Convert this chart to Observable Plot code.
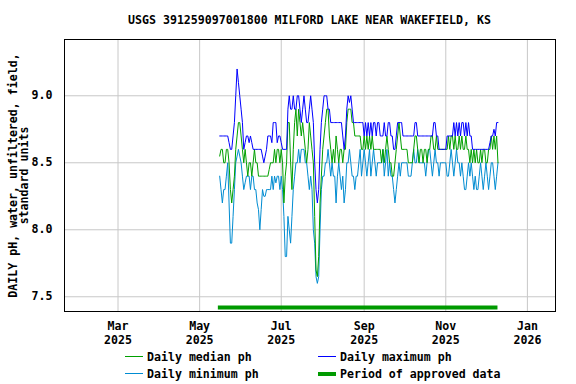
<!DOCTYPE html>
<html><head><meta charset="utf-8">
<script src="https://cdn.jsdelivr.net/npm/d3@7"></script>
<script src="https://cdn.jsdelivr.net/npm/@observablehq/plot@0.6"></script>
<style>
body{margin:0;background:#fff;}
#wrap{width:576px;height:384px;position:relative;font-family:"DejaVu Sans Mono",monospace;font-weight:bold;font-size:11.6px;color:#000;overflow:hidden;}
#title{height:30px;box-sizing:border-box;padding-top:13px;padding-left:64px;width:555px;text-align:center;line-height:14px;white-space:nowrap;}
#chart svg{display:block;}
#legend{position:relative;height:36px;margin-top:-3px;}
.item{position:absolute;display:flex;align-items:center;height:17px;white-space:nowrap;}
.sw{display:inline-block;width:18px;margin-right:4px;}
</style></head>
<body><div id="wrap"><div id="title"></div><div id="chart"></div><div id="legend"></div></div>
<script>
const titleText = "USGS 391259097001800 MILFORD LAKE NEAR WAKEFIELD, KS";
const yLabel = "DAILY pH, water, unfiltered, field,\nstandard units";
const startDate = "2025-05-16";
const xDomain = ["2025-01-20", "2026-01-22"];
const yDomain = [7.39, 9.42];
const xTickDates = ["2025-03-01", "2025-05-01", "2025-07-01", "2025-09-01", "2025-11-01", "2026-01-01"];
const xTickLabels = ["Mar\n2025", "May\n2025", "Jul\n2025", "Sep\n2025", "Nov\n2025", "Jan\n2026"];
const yTicks = [7.5, 8.0, 8.5, 9.0];
const approvedStart = ["2025-05-15"];
const approvedEnd = ["2025-12-10"];
const approvedLevel = 7.42;

const dailyMax = [8.7,8.7,8.7,8.7,8.7,8.7,8.7,8.65,8.6,8.6,
 8.7,8.8,9.0,9.2,9.1,9.0,8.9,8.8,8.6,8.65,
 8.7,8.7,8.65,8.7,8.65,8.6,8.6,8.6,8.6,8.6,
 8.6,8.6,8.55,8.5,8.55,8.6,8.7,8.7,8.7,8.65,
 8.8,8.8,8.8,8.65,8.7,8.7,8.65,8.6,8.6,8.6,
 8.6,8.9,9.0,8.9,8.9,9.0,8.9,8.9,9.0,9.0,
 8.9,8.8,8.9,9.0,8.9,8.8,8.8,8.9,9.0,8.9,
 8.8,8.5,8.3,8.2,8.3,8.6,8.8,8.9,9.0,9.0,
 9.0,8.9,8.9,8.8,8.8,8.8,8.8,8.8,8.8,8.8,
 8.8,8.8,8.7,8.6,8.7,8.9,9.0,8.95,9.0,8.9,
 8.8,8.8,8.8,8.8,8.8,8.8,8.8,8.8,8.7,8.8,
 8.7,8.8,8.7,8.8,8.7,8.8,8.8,8.7,8.8,8.8,
 8.7,8.7,8.7,8.8,8.7,8.7,8.8,8.8,8.7,8.7,
 8.6,8.6,8.7,8.8,8.8,8.8,8.8,8.7,8.7,8.7,
 8.7,8.7,8.7,8.7,8.7,8.7,8.8,8.8,8.7,8.7,
 8.7,8.7,8.7,8.7,8.7,8.7,8.7,8.7,8.7,8.7,
 8.8,8.8,8.7,8.7,8.6,8.6,8.6,8.6,8.6,8.6,
 8.7,8.7,8.7,8.7,8.7,8.8,8.7,8.8,8.7,8.8,
 8.7,8.8,8.8,8.7,8.8,8.7,8.8,8.7,8.7,8.6,
 8.6,8.6,8.6,8.6,8.6,8.6,8.6,8.6,8.6,8.6,
 8.6,8.6,8.65,8.7,8.7,8.75,8.7,8.8,8.8];

const dailyMedian = [8.55,8.6,8.6,8.5,8.5,8.6,8.6,8.5,8.3,8.2,
 8.3,8.4,8.6,8.7,8.8,8.8,8.7,8.6,8.5,8.6,
 8.5,8.4,8.5,8.5,8.4,8.5,8.6,8.5,8.5,8.4,
 8.4,8.4,8.4,8.4,8.4,8.4,8.4,8.45,8.5,8.5,
 8.5,8.6,8.5,8.6,8.6,8.5,8.6,8.5,8.2,8.4,
 8.5,8.8,8.8,8.5,8.3,8.6,8.8,8.9,8.7,8.9,
 8.8,8.7,8.8,8.7,8.6,8.5,8.6,8.8,8.7,8.6,
 8.5,8.1,7.7,7.65,7.8,8.2,8.4,8.6,8.7,8.8,
 8.9,8.9,8.7,8.6,8.5,8.6,8.5,8.7,8.6,8.5,
 8.6,8.6,8.5,8.6,8.6,8.8,8.9,8.9,8.9,8.8,
 8.8,8.7,8.7,8.7,8.7,8.7,8.6,8.6,8.7,8.6,
 8.7,8.6,8.7,8.6,8.7,8.6,8.6,8.6,8.6,8.6,
 8.6,8.5,8.6,8.5,8.6,8.7,8.6,8.5,8.5,8.4,
 8.4,8.5,8.6,8.7,8.8,8.7,8.6,8.6,8.6,8.6,
 8.6,8.5,8.5,8.5,8.5,8.6,8.7,8.7,8.6,8.5,
 8.6,8.6,8.5,8.6,8.6,8.5,8.6,8.6,8.7,8.7,
 8.6,8.6,8.7,8.6,8.6,8.6,8.6,8.6,8.6,8.6,
 8.6,8.7,8.6,8.7,8.7,8.6,8.7,8.6,8.6,8.7,
 8.6,8.7,8.6,8.6,8.7,8.6,8.6,8.5,8.6,8.5,
 8.6,8.5,8.6,8.5,8.5,8.6,8.5,8.6,8.6,8.5,
 8.5,8.6,8.6,8.7,8.6,8.7,8.6,8.7,8.5];

const dailyMin = [8.4,8.3,8.2,8.3,8.3,8.4,8.5,8.2,7.9,7.9,
 8.1,8.3,8.5,8.55,8.6,8.55,8.5,8.4,8.3,8.35,
 8.4,8.4,8.4,8.3,8.4,8.4,8.3,8.3,8.2,8.15,
 8.0,8.15,8.3,8.25,8.25,8.3,8.3,8.3,8.3,8.4,
 8.3,8.4,8.35,8.4,8.4,8.3,8.4,8.3,8.1,7.8,
 7.8,8.1,8.0,7.9,8.1,8.3,8.4,8.5,8.5,8.6,
 8.5,8.6,8.6,8.6,8.5,8.5,8.4,8.3,8.4,8.3,
 8.0,7.9,7.65,7.6,7.65,8.0,8.3,8.4,8.4,8.5,
 8.5,8.6,8.5,8.4,8.5,8.4,8.4,8.2,8.4,8.5,
 8.4,8.3,8.4,8.2,8.3,8.5,8.5,8.6,8.5,8.4,
 8.4,8.3,8.4,8.4,8.5,8.6,8.4,8.5,8.6,8.5,
 8.4,8.5,8.6,8.4,8.5,8.6,8.5,8.4,8.5,8.5,
 8.5,8.5,8.6,8.4,8.5,8.6,8.4,8.5,8.4,8.4,
 8.3,8.2,8.3,8.4,8.5,8.4,8.5,8.5,8.5,8.5,
 8.5,8.4,8.4,8.4,8.5,8.6,8.5,8.5,8.6,8.5,
 8.5,8.5,8.5,8.5,8.4,8.5,8.6,8.6,8.5,8.4,
 8.5,8.6,8.5,8.5,8.4,8.5,8.5,8.5,8.5,8.5,
 8.4,8.4,8.5,8.6,8.5,8.4,8.5,8.6,8.5,8.5,
 8.4,8.5,8.4,8.3,8.3,8.4,8.5,8.4,8.5,8.4,
 8.3,8.4,8.3,8.3,8.4,8.5,8.4,8.3,8.4,8.5,
 8.4,8.3,8.4,8.5,8.5,8.4,8.3,8.4,8.5];

const seriesNames = ["Daily median ph", "Daily maximum ph", "Daily minimum ph", "Period of approved data"];
const colors = {median: "#00a000", max: "#0000ff", min: "#008cd2", approved: "#009a00"};

const start = new Date(startDate);
const dates = d3.utcDay.range(start, d3.utcDay.offset(start, dailyMax.length));
const rows = dates.map((d, i) => ({date: d, max: dailyMax[i], median: dailyMedian[i], min: dailyMin[i]}));
const approved = approvedStart.map((s, i) => ({start: new Date(s), end: new Date(approvedEnd[i])}));
const xTicks = xTickDates.map(s => new Date(s));
const labelOf = new Map(xTicks.map((d, i) => [+d, xTickLabels[i]]));

document.getElementById("title").textContent = titleText;

const chart = Plot.plot({
  width: 576,
  height: 321,
  marginTop: 9,
  marginBottom: 40,
  marginLeft: 64,
  marginRight: 21,
  style: {fontFamily: "'DejaVu Sans Mono', monospace", fontSize: "11.6px", fontWeight: "bold", color: "#000", background: "#fff", overflow: "visible"},
  x: {type: "utc", domain: xDomain.map(s => new Date(s))},
  y: {domain: yDomain},
  marks: [
    Plot.gridX(xTicks, {stroke: "#c8c8c8", strokeOpacity: 1}),
    Plot.gridY(yTicks, {stroke: "#c8c8c8", strokeOpacity: 1}),
    Plot.ruleY(approved, {x1: "start", x2: "end", y: () => approvedLevel, stroke: colors.approved, strokeWidth: 4}),
    Plot.lineY(rows, {x: "date", y: "min", stroke: colors.min, strokeWidth: 1}),
    Plot.lineY(rows, {x: "date", y: "median", stroke: colors.median, strokeWidth: 1}),
    Plot.lineY(rows, {x: "date", y: "max", stroke: colors.max, strokeWidth: 1}),
    Plot.axisX(xTicks, {tickSize: 0, tickPadding: 9, tickFormat: d => labelOf.get(+d), lineHeight: 1.2, label: null}),
    Plot.axisY(yTicks, {tickSize: 0, tickPadding: 12, tickFormat: d3.format(".1f"), label: null}),
    Plot.text([yLabel], {frameAnchor: "left", textAnchor: "middle", lineAnchor: "middle", rotate: -90, dx: -46, lineHeight: 0.95, text: d => d}),
    Plot.frame({stroke: "#000"})
  ]
});
document.getElementById("chart").appendChild(chart);

const legend = document.getElementById("legend");
const items = [
  {name: seriesNames[0], color: colors.median, h: 1, left: 125, top: 0},
  {name: seriesNames[1], color: colors.max, h: 1, left: 318, top: 0},
  {name: seriesNames[2], color: colors.min, h: 1, left: 125, top: 17},
  {name: seriesNames[3], color: colors.approved, h: 4, left: 318, top: 17}
];
for (const it of items) {
  const div = document.createElement("div");
  div.className = "item";
  div.style.left = it.left + "px";
  div.style.top = it.top + "px";
  const sw = document.createElement("span");
  sw.className = "sw";
  sw.style.height = it.h + "px";
  sw.style.background = it.color;
  div.appendChild(sw);
  const t = document.createElement("span");
  t.textContent = it.name;
  div.appendChild(t);
  legend.appendChild(div);
}
</script>
</body></html>
